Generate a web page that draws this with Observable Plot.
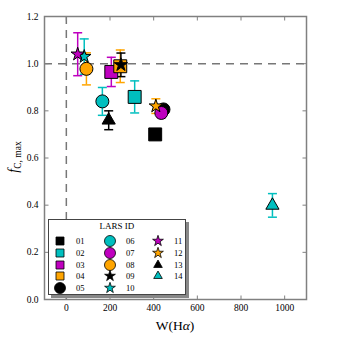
<!DOCTYPE html>
<html><head><meta charset="utf-8">
<script src="https://cdn.jsdelivr.net/npm/d3@7"></script>
<script src="https://cdn.jsdelivr.net/npm/@observablehq/plot@0.6"></script>
<style>
body{margin:0;background:#fff;}
#wrap{position:relative;width:340px;height:340px;font-family:"Liberation Serif",serif;color:#000;overflow:hidden;}
#wrap svg{position:absolute;left:0;top:0;}
.ylab{position:absolute;left:14px;top:157px;transform:translate(-50%,-50%) rotate(-90deg);white-space:nowrap;font-size:14px;}
.ylab sub{font-size:9.5px;font-style:normal;vertical-align:-3px;}
.xlab{position:absolute;left:175px;top:326px;transform:translate(-50%,-50%);white-space:nowrap;font-size:13.5px;}
.legend{position:absolute;left:48px;top:219px;width:138px;height:76px;box-sizing:border-box;border:1px solid #444;background:#fff;box-shadow:3px 3px 0 #888;}
.legend .title{position:absolute;left:0;right:0;top:1px;text-align:center;font-size:9px;}
.legend .lbl{position:absolute;font-size:8.5px;transform:translateY(-50%);}
.legend svg{position:absolute;overflow:visible;}
</style></head><body><div id="wrap"></div>
<script>
// ---- data ----
const ids    = ["01","02","03","04","05","06","07","08","09","10","11","12","13","14"];
const shapes = ["square","square","square","square","circle","circle","circle","circle","star","star","star","star","triangle","triangle"];
const colors = ["#000000","#00bfbf","#bf00bf","#ffa500","#000000","#00bfbf","#bf00bf","#ffa500","#000000","#00bfbf","#bf00bf","#ffa500","#000000","#00bfbf"];
const wHa    = [407, 313, 206, 247, 445, 165, 435, 92, 250, 82, 52, 410, 194, 944];
const fCmax  = [0.700, 0.859, 0.965, 0.989, 0.806, 0.840, 0.791, 0.978, 0.995, 1.030, 1.040, 0.820, 0.760, 0.399];
const fErr   = [0.015, 0.068, 0.062, 0.069, 0.010, 0.059, 0.020, 0.068, 0.050, 0.075, 0.091, 0.031, 0.040, 0.050];
const xTicks = [0, 200, 400, 600, 800, 1000];
const yTicks = [0, 0.2, 0.4, 0.6, 0.8, 1.0, 1.2];
const xDomain = [-100, 1100];
const yDomain = [0, 1.2];

const data = ids.map((id, i) => ({id, shape: shapes[i], color: colors[i], w: wHa[i], f: fCmax[i], e: fErr[i]}));

const SYM = {square: d3.symbolSquare, circle: d3.symbolCircle, star: d3.symbolStar, triangle: d3.symbolTriangle};
const R = {square: 7.3, circle: 6.5, star: 4.2, triangle: 4.9};
const LEG_SIZE = {square: 64, circle: 95, star: 36, triangle: 32};

const seg = (x0, y0, x1, y1) => ({draw(ctx){ ctx.moveTo(x0, y0); ctx.lineTo(x1, y1); }});
const capSym = seg(-4.5, 0, 4.5, 0);
const tickUp = seg(0, 0, 0, -4), tickDown = seg(0, 0, 0, 4), tickRight = seg(0, 0, 4, 0), tickLeft = seg(0, 0, -4, 0);
const gray = "#808080";

const plot = Plot.plot({
  width: 340, height: 340,
  marginLeft: 44, marginRight: 34, marginTop: 16, marginBottom: 41,
  style: {fontFamily: "Liberation Serif, serif", fontSize: "9.5px", background: "transparent", color: "#000"},
  x: {domain: xDomain},
  y: {domain: yDomain},
  marks: [
    Plot.ruleX([0], {stroke: "#777", strokeWidth: 1.5, strokeDasharray: "8,6"}),
    Plot.ruleY([1], {stroke: "#777", strokeWidth: 1.5, strokeDasharray: "8,6"}),
    Plot.ruleX(data, {x: "w", y1: d => d.f - d.e, y2: d => d.f + d.e, stroke: {value: "color", scale: null}, strokeWidth: 1.5}),
    Plot.dot(data, {x: "w", y: d => d.f + d.e, symbol: capSym, fill: "none", stroke: {value: "color", scale: null}, strokeWidth: 1.5}),
    Plot.dot(data, {x: "w", y: d => d.f - d.e, symbol: capSym, fill: "none", stroke: {value: "color", scale: null}, strokeWidth: 1.5}),
    Plot.dot(data, {x: "w", y: "f", sort: null,
      symbol: {value: d => SYM[d.shape], scale: null},
      r: {value: d => R[d.shape], scale: null},
      fill: {value: "color", scale: null}, stroke: "#000", strokeWidth: 1}),
    Plot.frame({stroke: gray, strokeWidth: 1.5}),
    Plot.dot(xTicks, {x: d => d, y: () => yDomain[0], symbol: tickUp, fill: "none", stroke: gray, strokeWidth: 1}),
    Plot.dot(xTicks, {x: d => d, y: () => yDomain[1], symbol: tickDown, fill: "none", stroke: gray, strokeWidth: 1}),
    Plot.dot(yTicks, {y: d => d, x: () => xDomain[0], symbol: tickRight, fill: "none", stroke: gray, strokeWidth: 1}),
    Plot.dot(yTicks, {y: d => d, x: () => xDomain[1], symbol: tickLeft, fill: "none", stroke: gray, strokeWidth: 1}),
    Plot.axisX({ticks: xTicks, tickSize: 0, tickPadding: 5, tickFormat: d3.format("d"), label: null}),
    Plot.axisY({ticks: yTicks, tickSize: 0, tickPadding: 6, tickFormat: d3.format(".1f"), label: null})
  ]
});

const wrap = document.getElementById("wrap");
wrap.appendChild(plot);

const yl = document.createElement("div");
yl.className = "ylab";
yl.innerHTML = "<i>f</i><sub>C, max</sub>";
wrap.appendChild(yl);
const xl = document.createElement("div");
xl.className = "xlab";
xl.innerHTML = "W(H<i>α</i>)";
wrap.appendChild(xl);

// legend
const leg = document.createElement("div");
leg.className = "legend";
leg.innerHTML = '<div class="title">LARS ID</div>';
const colX = [11, 61, 109], rowY0 = 21, rowDY = 11.8;
data.forEach((d, i) => {
  const c = Math.floor(i / 5), r = i % 5;
  const cx = colX[c], cy = rowY0 + r * rowDY;
  const s = d3.create("svg").attr("width", 1).attr("height", 1)
    .style("left", cx + "px").style("top", cy + "px");
  s.append("path").attr("d", d3.symbol(SYM[d.shape], LEG_SIZE[d.shape])())
    .attr("fill", d.color).attr("stroke", "#000").attr("stroke-width", 0.8);
  leg.appendChild(s.node());
  const t = document.createElement("div");
  t.className = "lbl";
  t.style.left = (cx + 16) + "px";
  t.style.top = cy + "px";
  t.textContent = d.id;
  leg.appendChild(t);
});
wrap.appendChild(leg);
</script>
</body></html>
